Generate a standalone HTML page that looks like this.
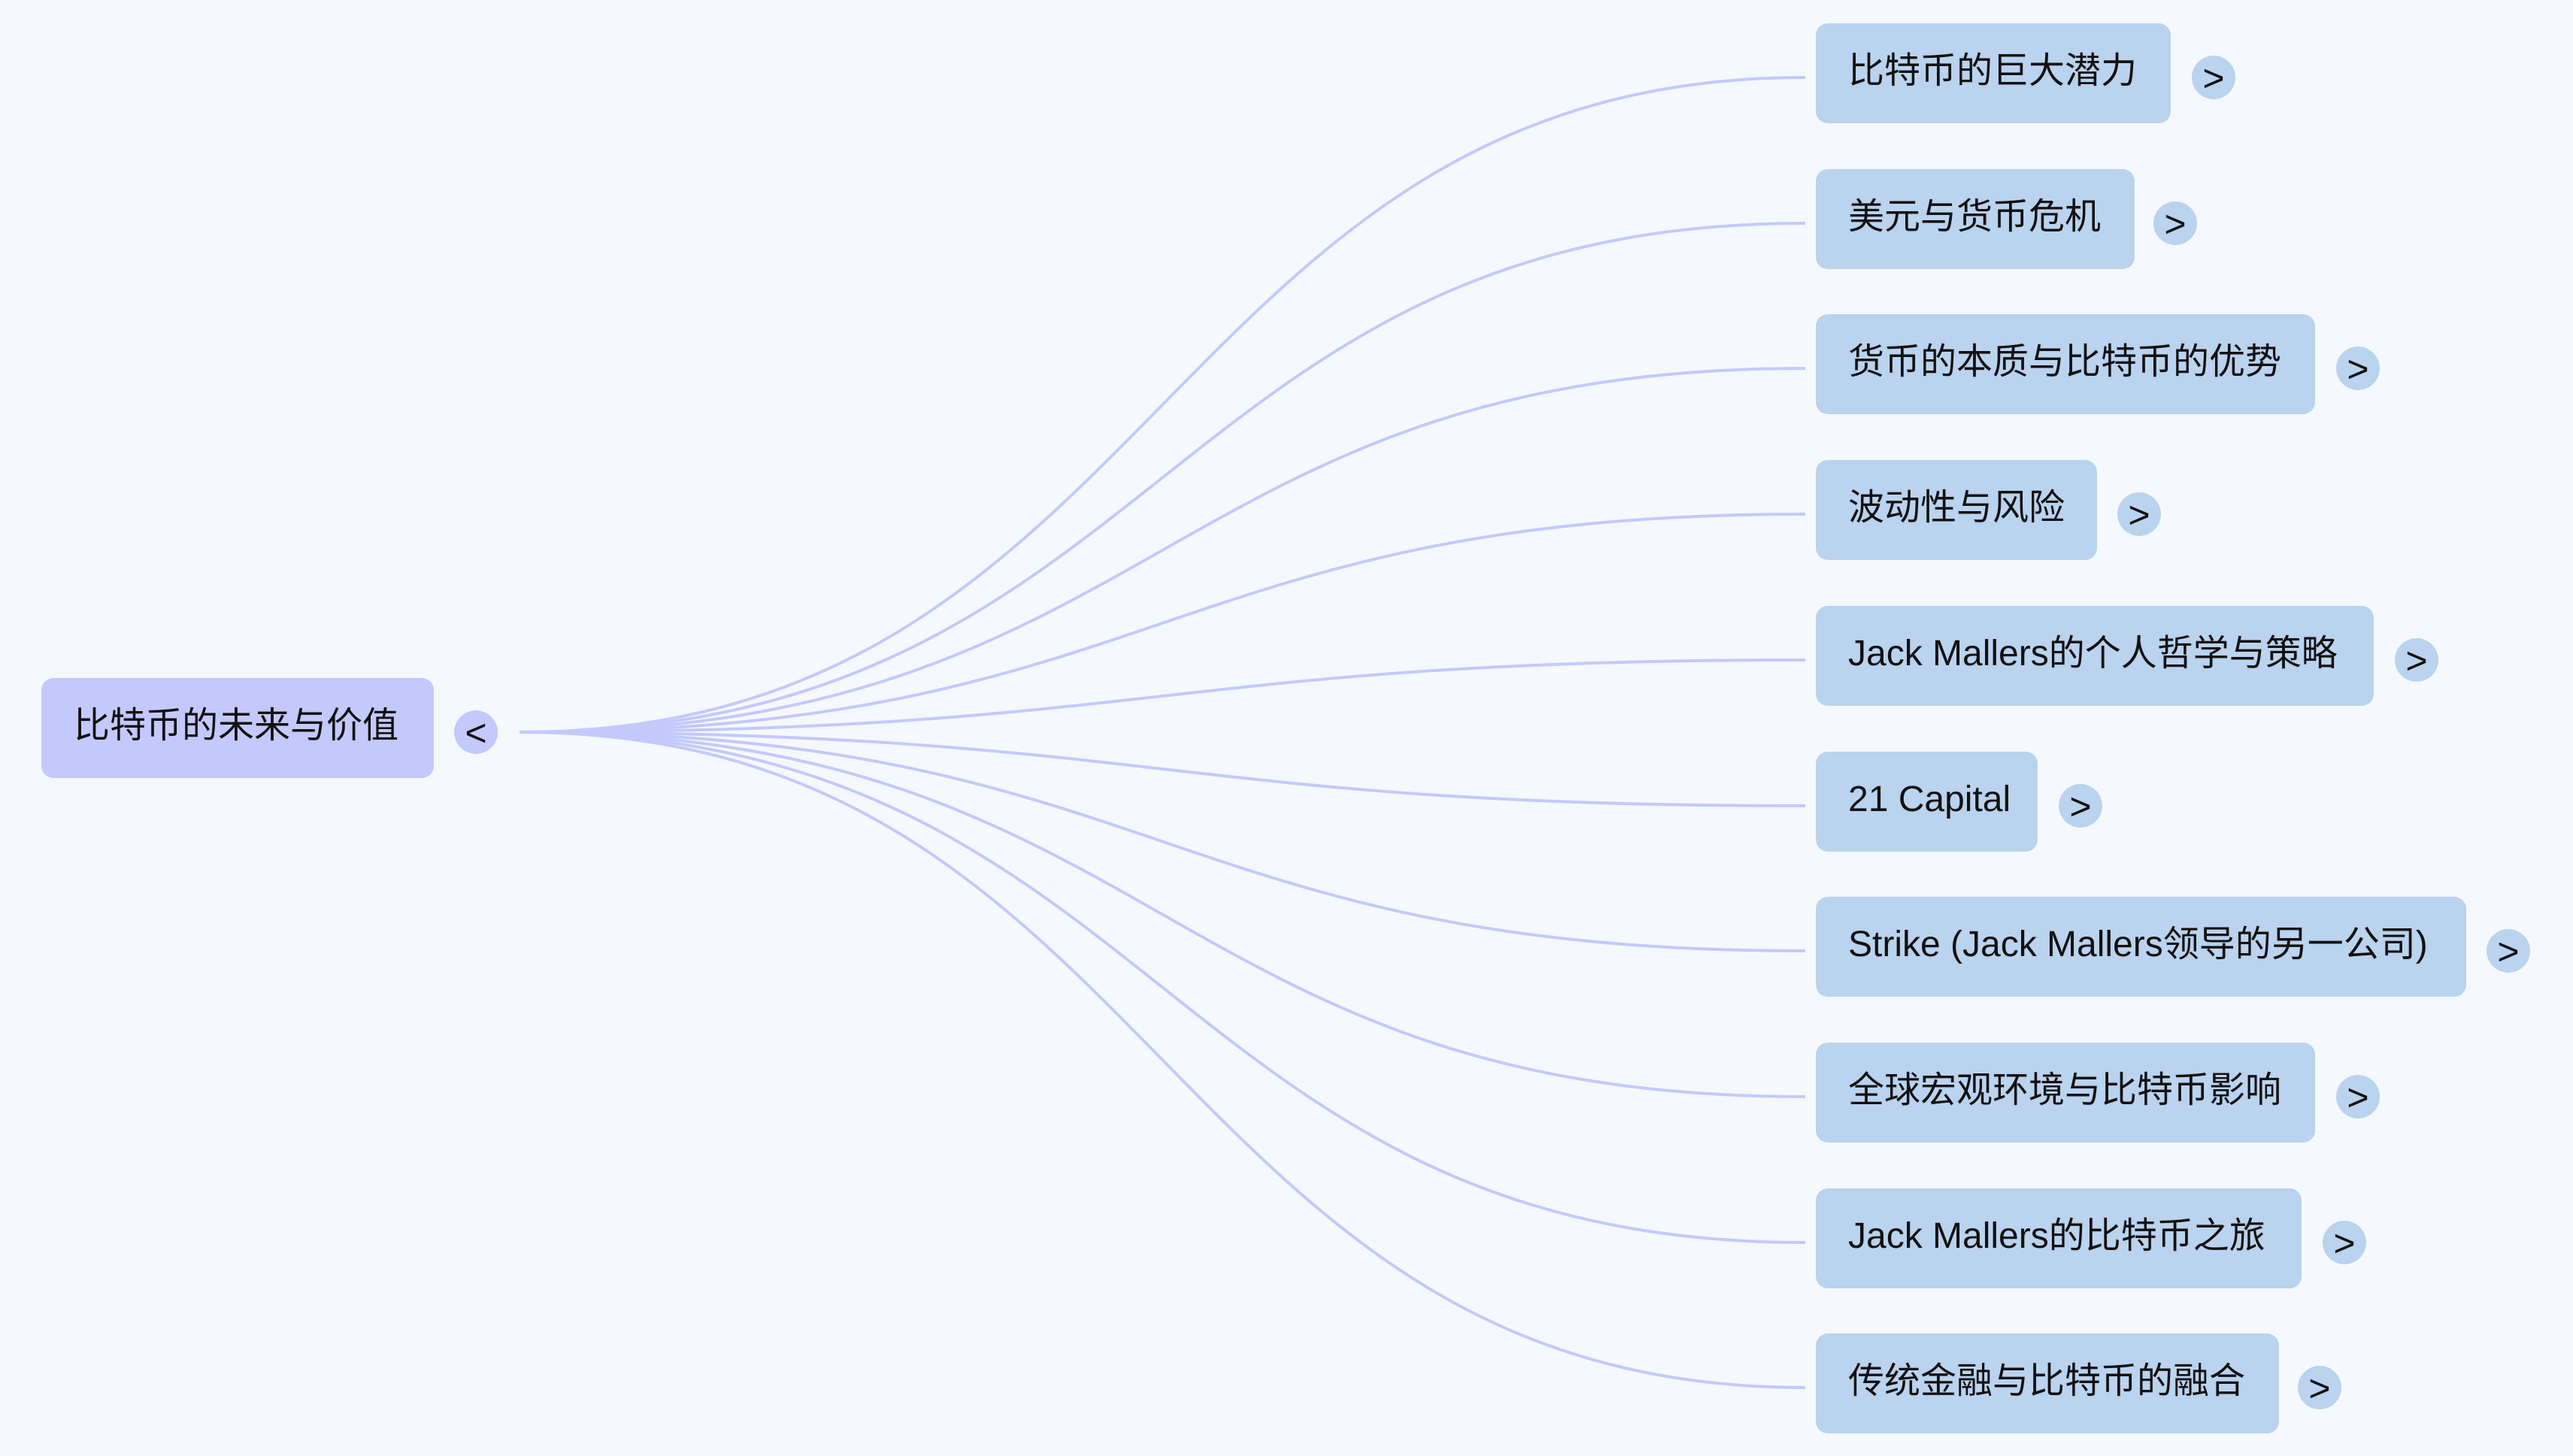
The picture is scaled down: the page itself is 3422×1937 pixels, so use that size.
<!DOCTYPE html>
<html><head><meta charset="utf-8"><style>
html,body{margin:0;padding:0;width:3422px;height:1937px;background:#f5f9fe;overflow:hidden}
body{position:relative;font-family:"Liberation Sans","Noto Sans CJK SC",sans-serif;color:#111}
.n{position:absolute;box-sizing:border-box;height:133px;border-radius:16px;background:#bad3ee;font-size:48px;line-height:127px;padding-left:43px;white-space:nowrap}
.r{background:#c4c9fc}
.t{position:absolute;width:58px;height:58px;border-radius:50%;background:#bad3ee;font-size:50px;line-height:60px;text-align:center}
svg{position:absolute;left:0;top:0}
</style></head><body>
<svg width="3422" height="1937" fill="none" stroke="#c4c9fc" stroke-width="4">
<path d="M691,974 C1546,974 1546,103 2401,103"/>
<path d="M691,974 C1546,974 1546,297 2401,297"/>
<path d="M691,974 C1546,974 1546,490 2401,490"/>
<path d="M691,974 C1546,974 1546,684 2401,684"/>
<path d="M691,974 C1546,974 1546,878 2401,878"/>
<path d="M691,974 C1546,974 1546,1072 2401,1072"/>
<path d="M691,974 C1546,974 1546,1265 2401,1265"/>
<path d="M691,974 C1546,974 1546,1459 2401,1459"/>
<path d="M691,974 C1546,974 1546,1653 2401,1653"/>
<path d="M691,974 C1546,974 1546,1846 2401,1846"/>
</svg>
<div class="n r" style="left:55px;top:902px;width:522px">比特币的未来与价值</div>
<div class="t r" style="left:604px;top:945px;background:#c4c9fc">&lt;</div>

<div class="n" style="left:2415px;top:31px;width:472px">比特币的巨大潜力</div>
<div class="t" style="left:2915px;top:74px">&gt;</div>
<div class="n" style="left:2415px;top:225px;width:424px">美元与货币危机</div>
<div class="t" style="left:2864px;top:268px">&gt;</div>
<div class="n" style="left:2415px;top:418px;width:664px">货币的本质与比特币的优势</div>
<div class="t" style="left:3107px;top:461px">&gt;</div>
<div class="n" style="left:2415px;top:612px;width:374px">波动性与风险</div>
<div class="t" style="left:2816px;top:655px">&gt;</div>
<div class="n" style="left:2415px;top:806px;width:742px">Jack Mallers的个人哲学与策略</div>
<div class="t" style="left:3185px;top:849px">&gt;</div>
<div class="n" style="left:2415px;top:1000px;width:295px">21 Capital</div>
<div class="t" style="left:2738px;top:1043px">&gt;</div>
<div class="n" style="left:2415px;top:1193px;width:865px">Strike (Jack Mallers领导的另一公司)</div>
<div class="t" style="left:3307px;top:1236px">&gt;</div>
<div class="n" style="left:2415px;top:1387px;width:664px">全球宏观环境与比特币影响</div>
<div class="t" style="left:3107px;top:1430px">&gt;</div>
<div class="n" style="left:2415px;top:1581px;width:646px">Jack Mallers的比特币之旅</div>
<div class="t" style="left:3089px;top:1624px">&gt;</div>
<div class="n" style="left:2415px;top:1774px;width:616px">传统金融与比特币的融合</div>
<div class="t" style="left:3056px;top:1817px">&gt;</div>
</body></html>
